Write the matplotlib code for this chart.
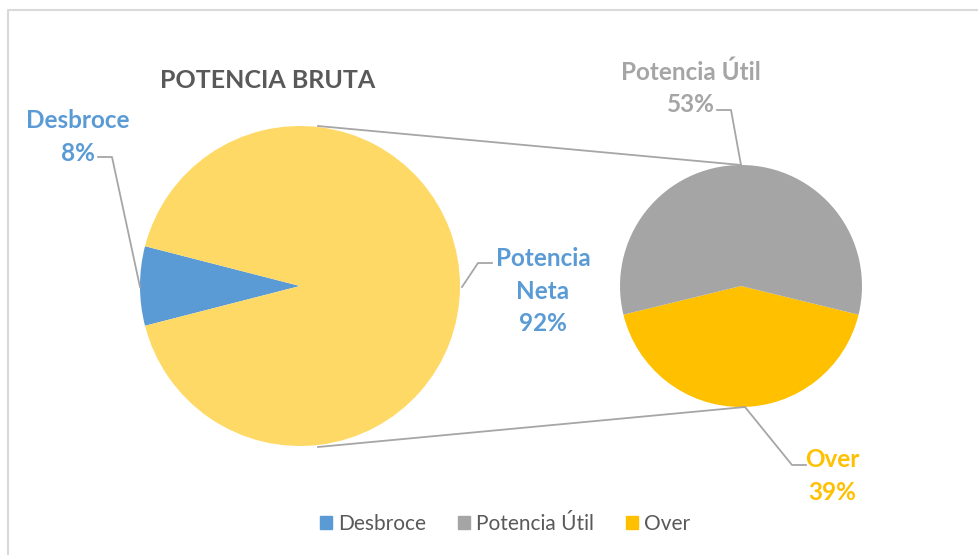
import matplotlib.pyplot as plt
from matplotlib.patches import Patch

plt.rcParams['font.family'] = ['Lato', 'DejaVu Sans']

# data
main_labels = ["Desbroce", "Potencia Neta"]
main_values = [8, 92]
sub_labels = ["Over", "Potencia Útil"]
sub_values = [39, 53]
legend_labels = ["Desbroce", "Potencia Útil", "Over"]

c_blue = "#5B9BD5"
c_light = "#FFD966"
c_gray = "#A5A5A5"
c_over = "#FFC000"
c_line = "#A6A6A6"
c_text = "#595959"

W, H = 979, 555
fig = plt.figure(figsize=(W / 100, H / 100), dpi=100)
ax = fig.add_axes([0, 0, 1, 1])

def py(y):
    # pixel row from top -> data y
    return H - y

# main pie, the small slice centred on the left side
c1, r1 = (300, py(286)), 160
start1 = 180 - main_values[0] / sum(main_values) * 360 / 2
ax.pie(main_values, colors=[c_blue, c_light], startangle=start1,
       center=c1, radius=r1, frame=True,
       wedgeprops=dict(linewidth=0))

# secondary pie, Over centred at the bottom
c2, r2 = (741, py(286)), 121
start2 = 270 - sub_values[0] / sum(sub_values) * 360 / 2
ax.pie(sub_values, colors=[c_over, c_gray], startangle=start2,
       center=c2, radius=r2, frame=True,
       wedgeprops=dict(linewidth=0))
ax.set_xlim(0, W)
ax.set_ylim(0, H)
ax.set_aspect('equal')
ax.axis('off')

# chart frame (only top/left visible)
ax.plot([8, 8, W], [0, py(10), py(10)], color="#D9D9D9", lw=1.5)

# connector lines between the pies
ax.plot([318, 741], [py(126), py(165)], color=c_line, lw=1.3)
ax.plot([318, 745], [py(447), py(407)], color=c_line, lw=1.3)

# leader lines for labels
ax.plot([98, 112, 140], [py(157), py(157), py(287)], color=c_line, lw=1.3)
ax.plot([492, 478, 462], [py(263), py(263), py(287)], color=c_line, lw=1.3)
ax.plot([717, 731, 741], [py(110), py(110), py(165)], color=c_line, lw=1.3)
ax.plot([806, 792, 745], [py(465), py(465), py(407)], color=c_line, lw=1.3)

lab = dict(ha='center', va='center', fontsize=17.5, fontweight='bold',
           linespacing=1.48)
ax.text(78, py(137), "%s\n%d%%" % (main_labels[0], main_values[0]),
        color=c_blue, **lab)
ax.text(543, py(291), "Potencia\nNeta\n%d%%" % main_values[1],
        color=c_blue, **lab)
ax.text(691, py(88), "%s\n%d%%" % (sub_labels[1], sub_values[1]),
        color=c_gray, **lab)
ax.text(832, py(476), "%s\n%d%%" % (sub_labels[0], sub_values[0]),
        color=c_over, **lab)

ax.text(268, py(80), "POTENCIA BRUTA", ha='center', va='center',
        fontsize=18, fontweight='bold', color=c_text)

handles = [Patch(color=c) for c in [c_blue, c_gray, c_over]]
ax.legend(handles, legend_labels, loc='center',
          bbox_to_anchor=(505 / W, 1 - 524 / H),
          ncol=3, frameon=False, fontsize=15, labelcolor=c_text,
          handlelength=0.6, handleheight=0.6, handletextpad=0.3,
          columnspacing=1.5)

fig.savefig("out.png", dpi=100)
